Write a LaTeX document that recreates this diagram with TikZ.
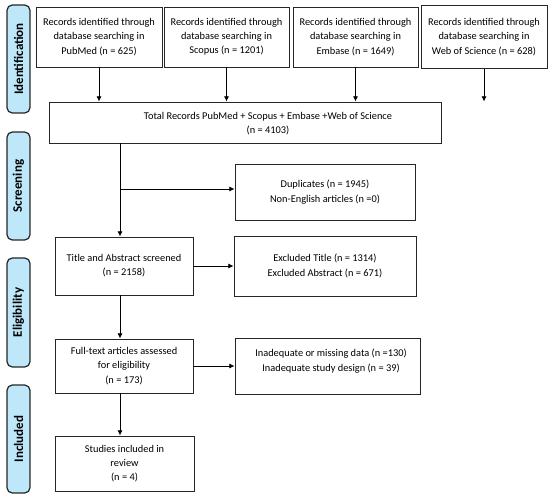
\documentclass[tikz,border=0pt]{standalone}
\usepackage{fontspec}
\usetikzlibrary{arrows.meta}
\setmainfont{Carlito}
\definecolor{phase}{RGB}{190,232,250}
\tikzset{
  box/.style={draw=black!85,line width=0.55pt,align=center,inner sep=1pt,
    font=\fontsize{5.9}{8.1}\selectfont},
  phasebar/.style={draw=black!85,fill=phase,line width=0.7pt,rounded corners=3pt,
    minimum width=0.46cm,minimum height=2.16cm},
  phaselabel/.style={rotate=90,font=\fontsize{7.4}{8}\selectfont\bfseries}
}
\begin{document}
\begin{tikzpicture}[x=0.02cm,y=-0.02cm,>={Latex[length=3pt,width=3pt]},line width=0.5pt]
  \useasboundingbox (0,0) rectangle (550,500);

  % phase bars
  \node[phasebar] (ident) at (18.5,59) {};
  \node[phaselabel] at (ident) {Identification};
  \node[phasebar] (screen) at (18.5,186) {};
  \node[phaselabel] at (screen) {Screening};
  \node[phasebar,minimum height=2.18cm] (elig) at (18.5,312.5) {};
  \node[phaselabel] at (elig) {Eligibility};
  \node[phasebar] (incl) at (18.5,439) {};
  \node[phaselabel] at (incl) {Included};

  % databases
  \node[box,minimum width=2.52cm,minimum height=1.2cm] (pubmed) at (99,37)
    {Records identified through\\database searching in\\PubMed (n = 625)};
  \node[box,minimum width=2.5cm,minimum height=1.2cm] (scopus) at (226.5,37)
    {Records identified through\\database searching in\\Scopus (n = 1201)};
  \node[box,minimum width=2.5cm,minimum height=1.2cm] (embase) at (355.5,37)
    {Records identified through\\database searching in\\Embase (n = 1649)};
  \node[box,minimum width=2.52cm,minimum height=1.26cm] (wos) at (484,37)
    {Records identified through\\database searching in\\Web of Science (n = 628)};

  % total
  \node[box,minimum width=7.86cm,minimum height=0.82cm] (total) at (245.5,122.5) {};
  \node[box,draw=none] (totaltext) at (268,124)
    {Total Records PubMed + Scopus + Embase +Web of Science\\(n = 4103)};

  % main column
  \node[box,minimum width=2.76cm,minimum height=1.16cm] (title) at (124,266)
    {Title and Abstract screened\\(n = 2158)};
  \node[box,minimum width=2.76cm,minimum height=1.08cm] (full) at (124,366)
    {Full-text articles assessed\\for eligibility\\(n = 173)};
  \node[box,minimum width=2.78cm,minimum height=1.1cm] (studies) at (124.5,463.5)
    {Studies included in\\review\\(n = 4)};

  % excluded
  \node[box,minimum width=3.6cm,minimum height=1.12cm] (dup) at (325,192)
    {Duplicates (n = 1945)\\Non-English articles (n =0)};
  \node[box,minimum width=3.64cm,minimum height=1.2cm] (excl) at (325,266)
    {Excluded Title (n = 1314)\\Excluded Abstract (n = 671)};
  \node[box,minimum width=3.7cm,minimum height=1.12cm] (inad) at (327.5,366) {};
  \node[box,draw=none] (inadtext) at (331,361)
    {Inadequate or missing data (n =130)\\Inadequate study design (n = 39)};

  \coordinate (trunk) at (120,0);
  \coordinate (split) at (120,189);

  % arrows
  \draw[->] (pubmed) -- (pubmed |- total.north);
  \draw[->] (scopus) -- (scopus |- total.north);
  \draw[->] (embase) -- (embase |- total.north);
  \draw[->] (wos) -- (wos |- total.north);
  \draw[->] (total.south -| trunk) -- (title.north -| trunk);
  \draw[->] (split) -- (split -| dup.west);
  \draw[->] (title) -- (excl);
  \draw[->] (title.south -| trunk) -- (full.north -| trunk);
  \draw[->] (full) -- (inad);
  \draw[->] (full.south -| trunk) -- (studies.north -| trunk);
\end{tikzpicture}
\end{document}
